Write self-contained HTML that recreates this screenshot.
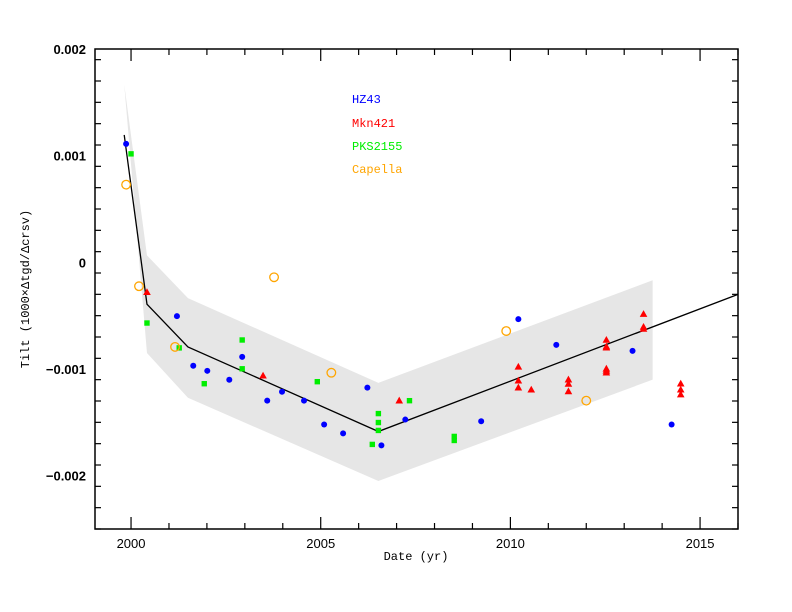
<!DOCTYPE html>
<html><head><meta charset="utf-8"><style>
html,body{margin:0;padding:0;background:#fff}
svg{display:block}
text{font-family:"Liberation Sans",sans-serif}
.mono{font-family:"Liberation Mono",monospace}
</style></head><body>
<svg id="chart" width="792" height="612" viewBox="0 0 792 612" xmlns="http://www.w3.org/2000/svg">
<g id="band"></g>
<g id="fit"></g>
<g id="pts"></g>
<g id="axes"></g>
<g font-size="12">
<text class="mono" x="352" y="103" fill="#0000ff">HZ43</text>
<text class="mono" x="352" y="127" fill="#ff0000">Mkn421</text>
<text class="mono" x="352" y="150" fill="#00ee00">PKS2155</text>
<text class="mono" x="352" y="173" fill="#ffa500">Capella</text>
</g>
<text class="mono" x="416" y="560" text-anchor="middle" font-size="12">Date (yr)</text>
<text class="mono" transform="translate(29,289) rotate(-90)" text-anchor="middle" font-size="12">Tilt (1000×Δtgd/Δcrsv)</text>
</svg>
<script>
const hzX=[1999.87,2001.21,2001.64,2002.01,2002.59,2002.93,2003.59,2003.98,2004.56,2005.09,2005.59,2006.23,2006.60,2007.23,2009.23,2010.21,2011.21,2013.22,2014.25];
const hzY=[1.11,-0.504,-0.97,-1.017,-1.101,-0.886,-1.296,-1.213,-1.296,-1.52,-1.604,-1.175,-1.716,-1.474,-1.49,-0.532,-0.774,-0.83,-1.52];
const mkX=[2000.42,2003.48,2007.07,2010.21,2010.21,2010.21,2010.55,2011.53,2011.53,2011.53,2012.53,2012.53,2012.53,2012.53,2012.53,2012.53,2013.51,2013.51,2013.51,2014.49,2014.49,2014.49];
const mkY=[-0.28,-1.063,-1.297,-0.98,-1.11,-1.175,-1.194,-1.10,-1.14,-1.21,-0.728,-0.79,-0.80,-0.998,-1.017,-1.035,-0.485,-0.606,-0.625,-1.138,-1.194,-1.24];
const pkX=[2000.0,2000.42,2001.27,2001.93,2002.93,2002.93,2004.91,2006.36,2006.52,2006.52,2006.52,2007.34,2008.52,2008.52];
const pkY=[1.017,-0.569,-0.802,-1.138,-0.728,-0.998,-1.119,-1.707,-1.418,-1.502,-1.576,-1.297,-1.632,-1.67];
const caX=[1999.87,2000.21,2001.16,2003.77,2005.28,2009.89,2012.0];
const caY=[0.728,-0.224,-0.793,-0.140,-1.035,-0.644,-1.297];
const fitX=[1999.82,2000.42,2001.5,2006.52,2016.0];
const fitY=[1.194,-0.392,-0.793,-1.586,-0.30];
const bandX=[1999.82,2000.42,2001.5,2006.52,2013.75,2013.75,2006.52,2001.5,2000.42];
const bandY=[1.67,0.065,-0.336,-1.13,-0.168,-1.10,-2.05,-1.27,-0.85];
const yTicks=[0.002,0.001,0,-0.001,-0.002];
const yTickLabels=["0.002","0.001","0","\u22120.001","\u22120.002"];
const xTicks=[2000,2005,2010,2015];
const xTickLabels=["2000","2005","2010","2015"];
const L=95,R=738,T=49,B=529,X0=1999.05,X1=2016.0,Y0=-0.0025,Y1=0.002;
const sx=v=>L+(v-X0)/(X1-X0)*(R-L);
const sy=v=>B-(v-Y0)/(Y1-Y0)*(B-T);
const sv=v=>sy(v*0.001);
const NS="http://www.w3.org/2000/svg";
function mk(tag,parent,attrs){const e=document.createElementNS(NS,tag);for(const k in attrs)e.setAttribute(k,attrs[k]);parent.appendChild(e);return e;}
const band=document.getElementById('band');
const bp=mk('polygon',band,{points:bandX.map((x,i)=>sx(x)+','+sv(bandY[i])).join(' '),fill:'#e6e6e6'});


const fit=document.getElementById('fit');
const fl=mk('polyline',fit,{points:fitX.map((x,i)=>sx(x)+','+sv(fitY[i])).join(' '),fill:'none',stroke:'#000','stroke-width':1.3});


const pts=document.getElementById('pts');
hzX.forEach((x,i)=>{const c=mk('circle',pts,{cx:sx(x),cy:sv(hzY[i]),r:3,fill:'#0000ff'});

});
pkX.forEach((x,i)=>{const c=mk('rect',pts,{x:sx(x)-2.7,y:sv(pkY[i])-2.7,width:5.4,height:5.4,fill:'#00ee00'});

});
mkX.forEach((x,i)=>{const X=sx(x),Y=sv(mkY[i]);const c=mk('polygon',pts,{points:`${X},${Y-4} ${X-3.8},${Y+2.8} ${X+3.8},${Y+2.8}`,fill:'#ff0000'});

});
caX.forEach((x,i)=>{const c=mk('circle',pts,{cx:sx(x),cy:sv(caY[i]),r:4.3,fill:'none',stroke:'#ffa500','stroke-width':1.3});

});
const ax=document.getElementById('axes');
const fr=mk('rect',ax,{x:L,y:T,width:R-L,height:B-T,fill:'none',stroke:'#000','stroke-width':1.5});


for(let k=-25;k<=20;k+=2){const y=sy(k*0.0001);const big=(k%10===0);const len=big?12:6;
mk('line',ax,{x1:L,x2:L+len,y1:y,y2:y,stroke:'#000','stroke-width':1.2});
mk('line',ax,{x1:R,x2:R-len,y1:y,y2:y,stroke:'#000','stroke-width':1.2});}
for(let yr=1999;yr<=2016;yr++){const x=sx(yr);if(x<L||x>R)continue;const len=(yr%5===0)?12:6;
mk('line',ax,{x1:x,x2:x,y1:B,y2:B-len,stroke:'#000','stroke-width':1.2});
mk('line',ax,{x1:x,x2:x,y1:T,y2:T+len,stroke:'#000','stroke-width':1.2});}
yTicks.forEach((v,i)=>{const t=mk('text',ax,{x:86,y:sy(v)+5,'text-anchor':'end','font-size':13,'font-weight':'bold'});t.textContent=yTickLabels[i];

});
xTicks.forEach((v,i)=>{const t=mk('text',ax,{x:sx(v),y:548,'text-anchor':'middle','font-size':13});t.textContent=xTickLabels[i];

});
</script>
</body></html>
